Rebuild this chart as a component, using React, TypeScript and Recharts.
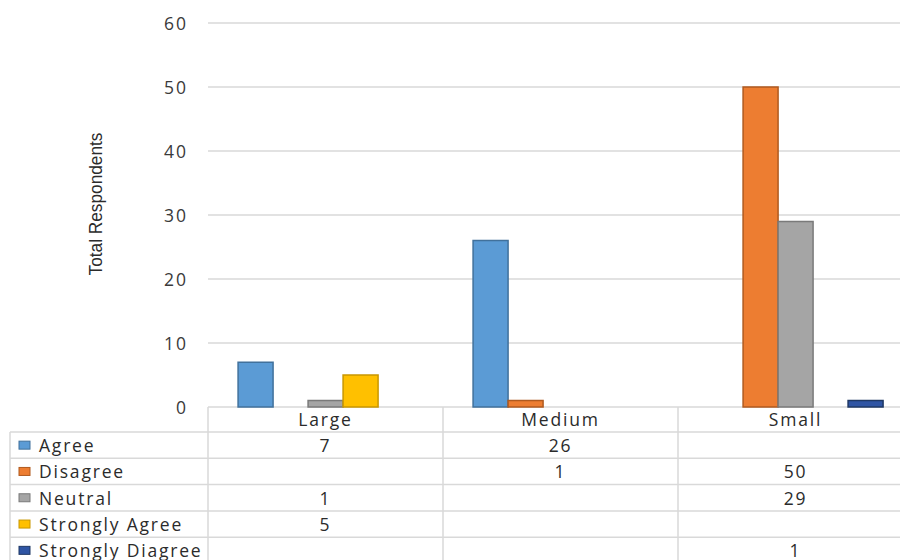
import React from 'react';
import { BarChart, Bar, XAxis, YAxis, CartesianGrid } from 'recharts';

// Survey responses per organisation size
const categories = ['Large', 'Medium', 'Small'];
const agree = [7, 26, null];
const disagree = [null, 1, 50];
const neutral = [1, null, 29];
const stronglyAgree = [5, null, null];
const stronglyDiagree = [null, null, 1];
const yTicks = [0, 10, 20, 30, 40, 50, 60];

const series = [
  { key: 'agree', name: 'Agree', values: agree, fill: '#5B9BD5', stroke: '#41719C' },
  { key: 'disagree', name: 'Disagree', values: disagree, fill: '#ED7D31', stroke: '#B05A1F' },
  { key: 'neutral', name: 'Neutral', values: neutral, fill: '#A5A5A5', stroke: '#7A7A7A' },
  { key: 'stronglyAgree', name: 'Strongly Agree', values: stronglyAgree, fill: '#FFC000', stroke: '#C99700' },
  { key: 'stronglyDiagree', name: 'Strongly Diagree', values: stronglyDiagree, fill: '#2F55A4', stroke: '#1F3864' },
];

const data = categories.map((category, i) => {
  const row: Record<string, any> = { category };
  series.forEach((s) => { row[s.key] = s.values[i]; });
  return row;
});

// layout
const CHART_W = 913;
const CHART_H = 560;
const PLOT_LEFT = 208;
const PLOT_TOP = 23;
const PLOT_BOTTOM = 407;
const BAND = (CHART_W - PLOT_LEFT) / categories.length;
const HEADER_Y = 419;
const ROW_TOP = 432;
const ROW_H = 26.3;

const FONT = '"Open Sans", "Segoe UI", sans-serif';
const TEXT = '#2b2b2b';
const LINE = '#d9d9d9';
const FS = 17.5;
const LS = 1.8;

const rowCenter = (r: number) => ROW_TOP + ROW_H * r + ROW_H / 2;

// each x tick draws one column of the data table
function TableColumn(props: any) {
  const { x, payload } = props;
  const i = payload.index;
  return (
    <g>
      <line x1={x - BAND / 2} x2={x - BAND / 2} y1={PLOT_BOTTOM} y2={CHART_H} stroke={LINE} strokeWidth={1.5} />
      <text x={x} y={HEADER_Y} textAnchor="middle" dominantBaseline="central"
        fontFamily={FONT} fontSize={FS} letterSpacing={LS} fill={TEXT}>
        {payload.value}
      </text>
      {series.map((s, r) =>
        s.values[i] == null ? null : (
          <text key={s.key} x={x} y={rowCenter(r)} textAnchor="middle" dominantBaseline="central"
            fontFamily={FONT} fontSize={FS} letterSpacing={LS} fill={TEXT}>
            {s.values[i]}
          </text>
        )
      )}
    </g>
  );
}

function YTick(props: any) {
  const { x, y, payload } = props;
  return (
    <text x={x} y={y} textAnchor="end" dominantBaseline="central"
      fontFamily={FONT} fontSize={FS} letterSpacing={2} fill="#3a3a3a">
      {payload.value}
    </text>
  );
}

export default function App() {
  return (
    <div style={{ position: 'fixed', left: 0, top: 0, width: 900, height: 560, overflow: 'hidden', background: '#fff' }}>
      <BarChart
        width={CHART_W}
        height={CHART_H}
        data={data}
        margin={{ top: PLOT_TOP, right: 0, left: 0, bottom: 0 }}
        barCategoryGap="12.8%"
        barGap={0}
      >
        <CartesianGrid vertical={false} stroke={LINE} strokeWidth={1.5} />
        <XAxis dataKey="category" height={CHART_H - PLOT_BOTTOM} axisLine={false}
          tickLine={false} interval={0} tick={<TableColumn />} />
        <YAxis width={PLOT_LEFT} domain={[0, 60]} ticks={yTicks} axisLine={false} tickLine={false}
          tickSize={0} tickMargin={20} tick={<YTick />} />
        {series.map((s) => (
          <Bar key={s.key} dataKey={s.key} name={s.name} fill={s.fill} stroke={s.stroke}
            strokeWidth={1.5} isAnimationActive={false} />
        ))}
      </BarChart>

      {/* axis title and the legend column of the table */}
      <svg width={900} height={560} style={{ position: 'absolute', left: 0, top: 0, pointerEvents: 'none' }}>
        <text transform="translate(95,204) rotate(-90)" textAnchor="middle" dominantBaseline="central"
          fontFamily='"Liberation Sans Narrow", "Arial Narrow", sans-serif' fontSize={19}
          textLength={143} lengthAdjust="spacingAndGlyphs" fill={TEXT}>
          Total Respondents
        </text>
        <line x1={10} x2={10} y1={ROW_TOP} y2={CHART_H} stroke={LINE} strokeWidth={1.5} />
        {series.map((s, r) => (
          <g key={s.key}>
            <line x1={10} x2={900} y1={ROW_TOP + ROW_H * r} y2={ROW_TOP + ROW_H * r} stroke={LINE} strokeWidth={1.5} />
            <rect x={19} y={rowCenter(r) - 4} width={11} height={8} fill={s.fill} stroke={s.stroke} strokeWidth={1} />
            <text x={39} y={rowCenter(r)} dominantBaseline="central" fontFamily={FONT} fontSize={FS}
              letterSpacing={LS} fill={TEXT}>
              {s.name}
            </text>
          </g>
        ))}
      </svg>
    </div>
  );
}
